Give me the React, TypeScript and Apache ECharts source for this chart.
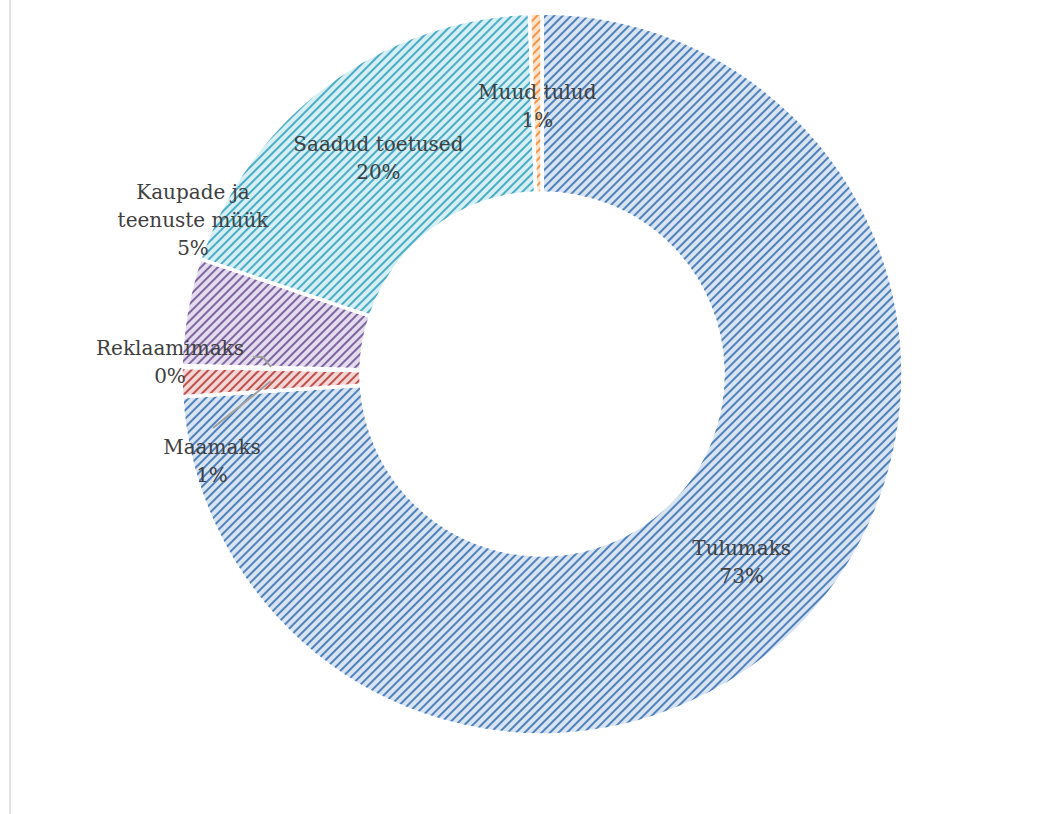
import React, { useEffect, useRef } from "react";
import * as echarts from "echarts";

const categories = [
  "Tulumaks",
  "Maamaks",
  "Reklaamimaks",
  "Kaupade ja teenuste müük",
  "Saadud toetused",
  "Muud tulud",
];
const values = [74.0, 1.3, 0.08, 4.8, 19.27, 0.55];
const percentLabels = ["73%", "1%", "0%", "5%", "20%", "1%"];
const labelNames = [
  "Tulumaks",
  "Maamaks",
  "Reklaamimaks",
  "Kaupade ja\nteenuste müük",
  "Saadud toetused",
  "Muud tulud",
];
const lineColors = ["#4F81BD", "#C0504D", "#9BBB59", "#8064A2", "#4BACC6", "#F79646"];
const tintColors = ["#D9E4F3", "#F3D6D5", "#E3EDD3", "#E3DCEC", "#D6EFF5", "#FDE2CC"];

export default function App() {
  const ref = useRef<HTMLDivElement>(null);
  useEffect(() => {
    if (!ref.current) return;
    const chart = echarts.init(ref.current, undefined, { renderer: "svg" });
    const labelFont = {
      color: "#404040",
      fontFamily: "DejaVu Serif",
      fontSize: 20,
      lineHeight: 28,
    };
    const data = categories.map((name, i) => {
      const outside = i >= 1 && i <= 3;
      return {
        name,
        value: values[i],
        itemStyle: {
          color: tintColors[i],
          decal: {
            symbol: "rect",
            symbolSize: 1,
            color: lineColors[i],
            dashArrayX: [1, 0],
            dashArrayY: [1.5, 3.5],
            rotation: -Math.PI / 4,
          },
        },
        label: { position: outside ? "outside" : "inside", ...labelFont },
        labelLine: { show: false },
      };
    });
    const leader = { stroke: "#A0A0A0", lineWidth: 2, fill: null };
    chart.setOption({
      animation: false,
      graphic: {
        elements: [
          {
            type: "line",
            shape: { x1: 10, y1: 0, x2: 10, y2: 814 },
            style: { stroke: "#D9D9D9", lineWidth: 1.5 },
            silent: true,
          },
          {
            type: "polyline",
            zlevel: 5,
            z: 100,
            shape: { points: [[253, 357], [263, 357], [271, 367]] },
            style: leader,
            silent: true,
          },
          {
            type: "line",
            zlevel: 5,
            z: 100,
            shape: { x1: 213, y1: 428, x2: 271, y2: 381 },
            style: leader,
            silent: true,
          },
        ],
      },
      series: [
        {
          type: "pie",
          center: [542, 374],
          radius: [181, 361],
          startAngle: 90,
          clockwise: true,
          avoidLabelOverlap: false,
          itemStyle: { borderColor: "#FFFFFF", borderWidth: 3.5 },
          label: {
            formatter: (p: any) => labelNames[p.dataIndex] + "\n" + percentLabels[p.dataIndex],
            ...labelFont,
          },
          labelLayout: (params: any) => {
            const i = params.dataIndex;
            if (i === 3) return { x: 193, y: 220, align: "center", verticalAlign: "middle" };
            if (i === 2) return { x: 170, y: 362, align: "center", verticalAlign: "middle" };
            if (i === 1) return { x: 212, y: 461, align: "center", verticalAlign: "middle" };
            if (i === 5) return { dy: 6 };
            if (i === 4) return { dy: 4 };
            return {};
          },
          emphasis: { disabled: true },
          data,
        },
      ],
    });
    return () => chart.dispose();
  }, []);
  return (
    <div
      ref={ref}
      style={{ position: "fixed", left: 0, top: 0, width: 1063, height: 814, background: "#fff" }}
    />
  );
}
